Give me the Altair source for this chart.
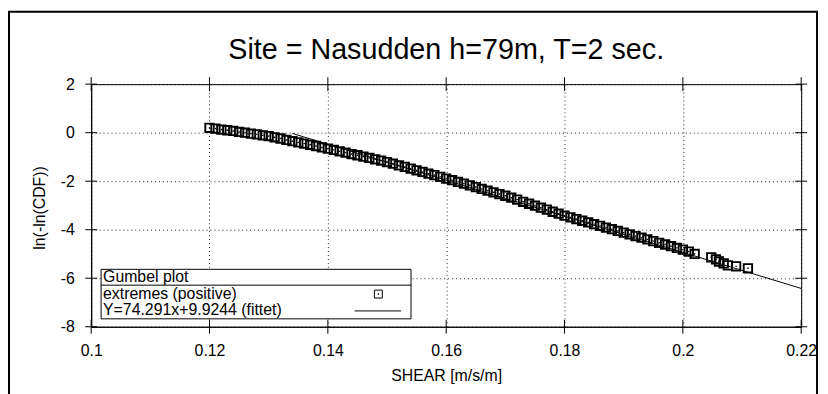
import altair as alt
import pandas as pd

# ---- data ----
shear = [0.120, 0.121, 0.122, 0.123, 0.124, 0.125, 0.126, 0.127, 0.128, 0.129,
         0.130, 0.131, 0.132, 0.133, 0.134, 0.135, 0.136, 0.137, 0.138, 0.139,
         0.140, 0.141, 0.142, 0.143, 0.144, 0.145, 0.146, 0.147, 0.148, 0.149,
         0.150, 0.151, 0.152, 0.153, 0.154, 0.155, 0.156, 0.157, 0.158, 0.159,
         0.160, 0.161, 0.162, 0.163, 0.164, 0.165, 0.166, 0.167, 0.168, 0.169,
         0.170, 0.171, 0.172, 0.173, 0.174, 0.175, 0.176, 0.177, 0.178, 0.179,
         0.180, 0.181, 0.182, 0.183, 0.184, 0.185, 0.186, 0.187, 0.188, 0.189,
         0.190, 0.191, 0.192, 0.193, 0.194, 0.195, 0.196, 0.197, 0.198, 0.199,
         0.200, 0.201, 0.202,
         0.2048, 0.2056, 0.2061, 0.2069, 0.2076, 0.2090, 0.2110]
gumbel = [0.20, 0.17, 0.13, 0.10, 0.07, 0.03, 0.00, -0.04, -0.07, -0.11,
          -0.14, -0.19, -0.24, -0.30, -0.35, -0.40, -0.45, -0.50, -0.55, -0.61,
          -0.66, -0.71, -0.77, -0.82, -0.88, -0.93, -0.99, -1.04, -1.10, -1.15,
          -1.21, -1.28, -1.35, -1.41, -1.48, -1.55, -1.62, -1.69, -1.75, -1.82,
          -1.89, -1.96, -2.03, -2.10, -2.17, -2.24, -2.32, -2.39, -2.46, -2.53,
          -2.60, -2.68, -2.76, -2.85, -2.93, -3.01, -3.09, -3.17, -3.26, -3.34,
          -3.42, -3.49, -3.56, -3.63, -3.70, -3.77, -3.84, -3.91, -3.98, -4.05,
          -4.12, -4.19, -4.26, -4.33, -4.40, -4.47, -4.54, -4.61, -4.68, -4.75,
          -4.82, -4.90, -5.00,
          -5.14, -5.22, -5.31, -5.39, -5.47, -5.51, -5.59]

fit_x = [0.134, 0.22]
fit_y = [-0.031, -6.420]

x_ticks = [0.1, 0.12, 0.14, 0.16, 0.18, 0.2, 0.22]
y_ticks = [-8, -6, -4, -2, 0, 2]

title_text = "Site = Nasudden h=79m, T=2 sec."
x_title = "SHEAR [m/s/m]"
y_title = "ln(-ln(CDF))"
legend_header = "Gumbel plot"
legend_points = "extremes (positive)"
legend_line = "Y=74.291x+9.9244 (fittet)"

# ---- layout ----
W, H = 717, 245
FONT = "Liberation Sans"

pts = pd.DataFrame({"x": shear, "y": gumbel})
fit = pd.DataFrame({"x": fit_x, "y": fit_y})
xt = pd.DataFrame({"x": x_ticks})
yt = pd.DataFrame({"y": y_ticks})
one = pd.DataFrame({"d": [0]})

xscale = alt.Scale(domain=[0.1, 0.22], nice=False, zero=False)
yscale = alt.Scale(domain=[-8, 2], nice=False, zero=False)

x_axis = alt.Axis(values=x_ticks, labelPadding=16, title=x_title,
                  titleY=54, titleBaseline="alphabetic", titleX=W / 2,
                  titleAlign="center", labelExpr="'' + datum.value",
                  labelFlush=False, labelOverlap=False)
y_axis = alt.Axis(values=y_ticks, labelPadding=17, title=y_title,
                  titleX=-47, titleY=H / 2 + 2, titleAngle=270,
                  titleBaseline="alphabetic", titleAlign="center",
                  labelExpr="'' + datum.value",
                  labelFlush=False, labelOverlap=False)

squares = alt.Chart(pts).mark_point(shape="square", size=72, filled=False,
                                    color="black", strokeWidth=1.9, opacity=1).encode(
    x=alt.X("x:Q", scale=xscale, axis=x_axis),
    y=alt.Y("y:Q", scale=yscale, axis=y_axis))

dots = alt.Chart(pts).mark_point(shape="square", size=2, filled=True,
                                 color="black", opacity=1).encode(
    x=alt.X("x:Q"), y=alt.Y("y:Q"))

line = alt.Chart(fit).mark_line(color="black", strokeWidth=1).encode(
    x=alt.X("x:Q"), y=alt.Y("y:Q"))

tick_len = 7
xt_bot = alt.Chart(xt).mark_rule(color="black", strokeWidth=1).encode(
    x=alt.X("x:Q"), y=alt.value(H - tick_len), y2=alt.value(H + tick_len))
xt_top = alt.Chart(xt).mark_rule(color="black", strokeWidth=1).encode(
    x=alt.X("x:Q"), y=alt.value(-tick_len), y2=alt.value(tick_len))
yt_left = alt.Chart(yt).mark_rule(color="black", strokeWidth=1).encode(
    y=alt.Y("y:Q"), x=alt.value(-6), x2=alt.value(6))
yt_right = alt.Chart(yt).mark_rule(color="black", strokeWidth=1).encode(
    y=alt.Y("y:Q"), x=alt.value(W - 6), x2=alt.value(W + 6))

frame = alt.Chart(one).mark_rect(fillOpacity=0, stroke="black", strokeWidth=2).encode(
    x=alt.value(-83), x2=alt.value(733), y=alt.value(-73), y2=alt.value(330))

# legend box (drawn)
lg_box = alt.Chart(one).mark_rect(fill="white", stroke="black", strokeWidth=1).encode(
    x=alt.value(10), x2=alt.value(323), y=alt.value(187), y2=alt.value(237))
lg_div = alt.Chart(one).mark_rule(color="black", strokeWidth=1).encode(
    x=alt.value(10), x2=alt.value(323), y=alt.value(203))
lg_t1 = alt.Chart(one).mark_text(text=legend_header, align="left", baseline="alphabetic",
                                  font=FONT, fontSize=16, color="black").encode(
    x=alt.value(12), y=alt.value(200))
lg_t2 = alt.Chart(one).mark_text(text=legend_points, align="left", baseline="alphabetic",
                                  font=FONT, fontSize=16, color="black").encode(
    x=alt.value(12), y=alt.value(217))
lg_t3 = alt.Chart(one).mark_text(text=legend_line, align="left", baseline="alphabetic",
                                  font=FONT, fontSize=16, color="black").encode(
    x=alt.value(12), y=alt.value(233))
lg_sym = alt.Chart(one).mark_point(shape="square", size=64, filled=False, color="black",
                                    strokeWidth=1, opacity=1).encode(
    x=alt.value(290), y=alt.value(212))
lg_symdot = alt.Chart(one).mark_point(shape="square", size=2, filled=True, color="black",
                                       opacity=1).encode(
    x=alt.value(290), y=alt.value(212))
lg_line = alt.Chart(one).mark_rule(color="black", strokeWidth=1).encode(
    x=alt.value(266), x2=alt.value(313), y=alt.value(229))

title = alt.Chart(one).mark_text(text=title_text, align="center", baseline="alphabetic",
                                  font=FONT, fontSize=29, color="black").encode(
    x=alt.value(W / 2), y=alt.value(-25))

chart = alt.layer(
    squares, dots, line, xt_bot, xt_top, yt_left, yt_right, frame,
    lg_box, lg_div, lg_t1, lg_t2, lg_t3, lg_sym, lg_symdot, lg_line, title
).properties(
    width=W, height=H,
    autosize=alt.AutoSizeParams(type="none"),
    padding={"left": 84, "top": 75, "right": 19, "bottom": 66},
    background="white",
).configure_view(
    stroke="black", strokeWidth=1
).configure_axis(
    grid=True, gridDash=[1, 3], gridColor="#000000", gridOpacity=0.85,
    ticks=False, domain=True, domainColor="#000000", domainWidth=1,
    labelFont=FONT, labelFontSize=16, labelColor="#000000",
    titleFont=FONT, titleFontSize=16, titleColor="#000000",
    titleFontWeight="normal",
)

chart.save("out.html", embed_options={"renderer": "svg", "actions": False})
